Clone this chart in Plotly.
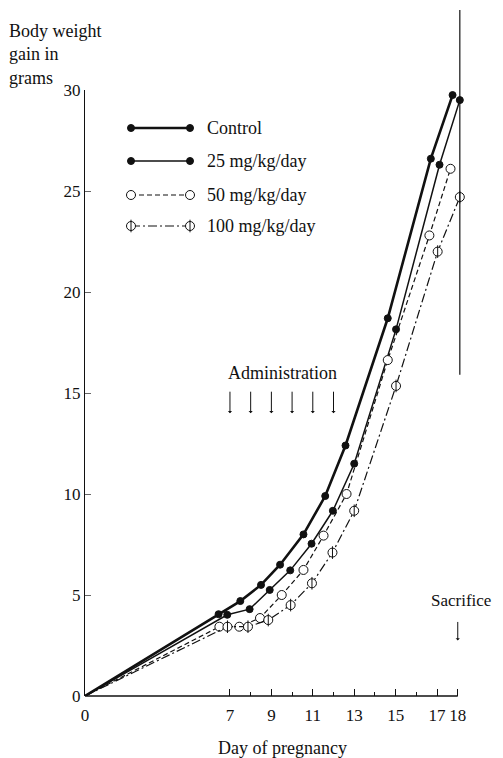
import plotly.graph_objects as go

# ---- data ----
control_day = [0, 6.45, 7.5, 8.5, 9.42, 10.55, 11.6, 12.58, 14.62, 16.7, 17.75]
control_gain = [0, 4.05, 4.7, 5.5, 6.5, 8.0, 9.9, 12.4, 18.7, 26.6, 29.75]

dose25_day = [0, 6.87, 7.95, 8.92, 9.91, 10.94, 11.97, 13.0, 15.02, 17.12, 18.1]
dose25_gain = [0, 4.02, 4.3, 5.25, 6.22, 7.54, 9.17, 11.5, 18.15, 26.3, 29.5]

dose50_day = [0, 6.49, 7.45, 8.45, 9.5, 10.55, 11.52, 12.63, 14.62, 16.63, 17.65]
dose50_gain = [0, 3.43, 3.43, 3.86, 5.0, 6.24, 7.94, 10.0, 16.63, 22.8, 26.1]

dose100_day = [0, 6.88, 7.87, 8.85, 9.93, 10.96, 11.95, 13.0, 15.02, 17.03, 18.1]
dose100_gain = [0, 3.43, 3.43, 3.76, 4.5, 5.58, 7.1, 9.17, 15.35, 22.0, 24.7]

series_names = ["Control", "25 mg/kg/day", "50 mg/kg/day", "100 mg/kg/day"]

x_tickvals = [0, 7, 9, 11, 13, 15, 17, 18]
x_minor_tickvals = [8, 10, 12, 14, 16]
y_tickvals = [0, 5, 10, 15, 20, 25, 30]

admin_days = [7, 8, 9, 10, 11, 12]
sacrifice_day = 18.1

XMAX = 18.35
YMAX = 30
FONT = "Liberation Serif"
INK = "#111111"

fig = go.Figure()

styles = [
    dict(width=2.6, dash="solid", symbol="circle", fill=INK, size=7),
    dict(width=1.5, dash="solid", symbol="circle", fill=INK, size=7),
    dict(width=1.2, dash="5px,3px", symbol="circle", fill="white", size=9),
    dict(width=1.2, dash="9px,3px,2px,3px", symbol="circle", fill="white", size=9),
]
data = [(control_day, control_gain), (dose25_day, dose25_gain),
        (dose50_day, dose50_gain), (dose100_day, dose100_gain)]

for (dx, dy), st, name in zip(data, styles, series_names):
    fig.add_trace(go.Scatter(x=dx, y=dy, mode="lines", name=name, showlegend=False,
                             line=dict(color=INK, width=st["width"], dash=st["dash"])))
    fig.add_trace(go.Scatter(x=dx[1:], y=dy[1:], mode="markers", showlegend=False, cliponaxis=False,
                             marker=dict(symbol=st["symbol"], size=st["size"], color=st["fill"],
                                         line=dict(color=INK, width=1))))
# vertical bars inside 100 mg markers
fig.add_trace(go.Scatter(x=dose100_day[1:], y=dose100_gain[1:], mode="markers", showlegend=False,
                         cliponaxis=False,
                         marker=dict(symbol="line-ns", size=9, line=dict(color=INK, width=1))))

# ---- legend drawn on a pixel overlay (reference pixel coordinates) ----
leg_rows = [128, 161, 195, 226]
leg_x0, leg_x1, leg_tx = 131, 190, 205
for row, st, name in zip(leg_rows, styles, series_names):
    fig.add_trace(go.Scatter(x=[leg_x0, leg_x1], y=[row, row], xaxis="x2", yaxis="y2",
                             mode="lines+markers", showlegend=False,
                             line=dict(color=INK, width=st["width"], dash=st["dash"]),
                             marker=dict(symbol=st["symbol"], size=st["size"], color=st["fill"],
                                         line=dict(color=INK, width=1))))
    fig.add_annotation(x=leg_tx, y=row, xref="x2", yref="y2", text=name, showarrow=False,
                       xanchor="left", yanchor="middle",
                       font=dict(family=FONT, size=18, color=INK))
fig.add_trace(go.Scatter(x=[leg_x0, leg_x1], y=[leg_rows[3], leg_rows[3]], xaxis="x2", yaxis="y2",
                         mode="markers", showlegend=False,
                         marker=dict(symbol="line-ns", size=9, line=dict(color=INK, width=1))))

# ---- annotations ----
fig.add_annotation(x=-0.205, y=1.117, xref="paper", yref="paper",
                   text="Body weight<br>gain in<br>grams", align="left", showarrow=False,
                   xanchor="left", yanchor="top", font=dict(family=FONT, size=18, color=INK))
fig.add_annotation(x=0.521, y=-0.086, xref="paper", yref="paper", text="Day of pregnancy",
                   showarrow=False, xanchor="center", yanchor="middle",
                   font=dict(family=FONT, size=18, color=INK))
fig.add_annotation(x=9.55, y=16.0, text="Administration", showarrow=False,
                   font=dict(family=FONT, size=18, color=INK))
for d in admin_days:
    fig.add_annotation(x=d, y=14.0, ax=0, ay=-23, text="", showarrow=True,
                       arrowhead=1, arrowsize=0.7, arrowwidth=1, arrowcolor=INK)
fig.add_annotation(x=1.074, y=4.75, xref="paper", yref="y", text="Sacrifice", showarrow=False,
                   xanchor="right", font=dict(family=FONT, size=17, color=INK))
fig.add_annotation(x=18.0, y=2.75, ax=0, ay=-20, text="", showarrow=True,
                   arrowhead=1, arrowsize=0.7, arrowwidth=1, arrowcolor=INK)

# ---- shapes: x-axis line up to day 18 and sacrifice line ----
fig.add_shape(type="line", xref="paper", yref="paper", x0=0, x1=18 / XMAX, y0=0, y1=0,
              line=dict(color=INK, width=1.5))
fig.add_shape(type="line", xref="paper", yref="paper",
              x0=sacrifice_day / XMAX, x1=sacrifice_day / XMAX,
              y0=15.9 / YMAX, y1=1.132, line=dict(color=INK, width=1.2))

# page body has an 8px margin, so the figure is smaller and shifted
fig.update_layout(
    width=495, height=750,
    margin=dict(l=77, r=38, t=82, b=62, autoexpand=False),
    paper_bgcolor="white", plot_bgcolor="white",
    showlegend=False,
    font=dict(family=FONT, color=INK),
    xaxis=dict(range=[0, XMAX], showgrid=False, zeroline=False, showline=False,
               automargin=False, tickangle=0, ticklabelstandoff=7,
               tickmode="array", tickvals=x_tickvals, ticktext=[str(v) for v in x_tickvals],
               ticks="inside", ticklen=7, tickwidth=1, tickcolor=INK,
               minor=dict(tickvals=x_minor_tickvals, ticks="inside", ticklen=4,
                          tickwidth=1, tickcolor=INK),
               tickfont=dict(family=FONT, size=17, color=INK)),
    yaxis=dict(range=[0, YMAX], showgrid=False, zeroline=False, showline=True,
               automargin=False,
               linecolor=INK, linewidth=1.3,
               tickmode="array", tickvals=y_tickvals, ticktext=[str(v) for v in y_tickvals],
               ticks="inside", ticklen=6, tickwidth=1, tickcolor="#666666",
               tickfont=dict(family=FONT, size=17, color=INK)),
    xaxis2=dict(overlaying="x", range=[85, 85 + 380], visible=False),
    yaxis2=dict(overlaying="y", range=[696, 90], visible=False),
)

fig.write_html("out.html")
